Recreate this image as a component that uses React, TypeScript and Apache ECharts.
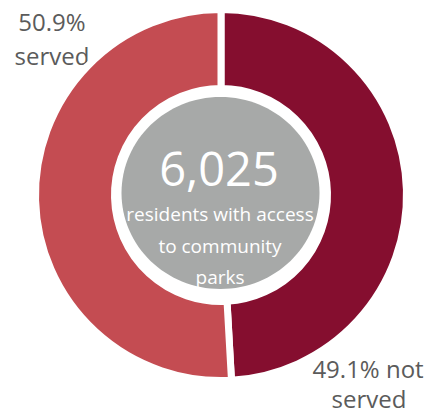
import React, { useEffect, useRef } from "react";
import * as echarts from "echarts";

const categories = ["not served", "served"];
const percentages = [49.1, 50.9];
const sliceColors = ["#850e2f", "#c44c52"];
const centerValue = "6,025";
const centerLines = ["residents with access", "to community", "parks"];

export default function App() {
  const ref = useRef<HTMLDivElement>(null);
  useEffect(() => {
    document.body.style.margin = "0";
    const chart = echarts.init(ref.current!, null, { renderer: "svg" });
    const font = "'Open Sans', 'Noto Sans', sans-serif";
    const labelColor = "#5b5b5b";
    const servedLines = [`${percentages[1].toFixed(1)}%`, categories[1]];
    const notServedLines = [`${percentages[0].toFixed(1)}% not`, "served"];
    const lbl = (text: string, x: number, y: number, size: number) => ({
      type: "text",
      x,
      y,
      style: {
        text,
        fill: labelColor,
        font: `${size}px ${font}`,
        textAlign: "center",
        textVerticalAlign: "middle",
      },
    });
    chart.setOption({
      animation: false,
      series: [
        {
          type: "pie",
          center: [221, 195],
          radius: [106.5, 185.5],
          startAngle: 90,
          clockwise: true,
          silent: true,
          label: { show: false },
          labelLine: { show: false },
          itemStyle: { borderColor: "#ffffff", borderWidth: 7 },
          data: categories.map((c, i) => ({
            name: c,
            value: percentages[i],
            itemStyle: { color: sliceColors[i] },
          })),
        },
      ],
      graphic: [
        {
          type: "ellipse",
          shape: { cx: 220.5, cy: 193, rx: 99, ry: 96 },
          style: { fill: "#a7a9a8" },
          silent: true,
        },
        {
          type: "text",
          x: 219,
          y: 168,
          style: {
            text: centerValue,
            fill: "#ffffff",
            font: `47px ${font}`,
            textAlign: "center",
            textVerticalAlign: "middle",
          },
        },
        ...centerLines.map((t, i) => ({
          type: "text",
          x: 220,
          y: 214 + i * 31.5,
          style: {
            text: t,
            fill: "#ffffff",
            font: `19px ${font}`,
            textAlign: "center",
            textVerticalAlign: "middle",
          },
        })),
        lbl(servedLines[0], 52, 21, 24),
        lbl(servedLines[1], 52, 55, 24),
        lbl(notServedLines[0], 368, 368, 24),
        lbl(notServedLines[1], 369, 398, 24),
      ],
    });
    return () => chart.dispose();
  }, []);
  return (
    <div
      ref={ref}
      style={{ position: "absolute", left: 0, top: 0, width: 443, height: 414 }}
    />
  );
}
